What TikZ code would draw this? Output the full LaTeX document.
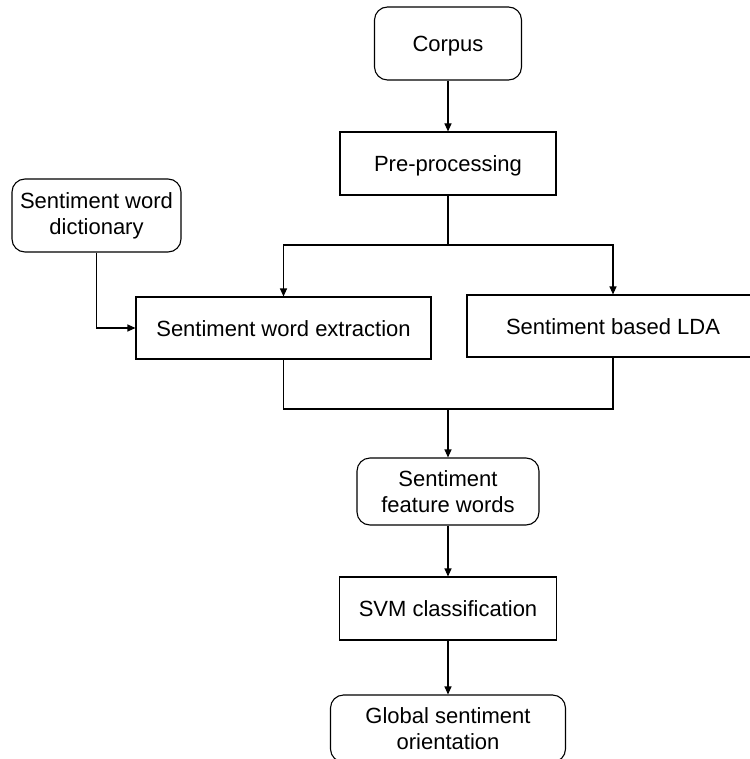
\documentclass[tikz,border=0pt]{standalone}
\usepackage{fontspec}
\setmainfont{Liberation Sans}
\usetikzlibrary{arrows.meta}

\begin{document}
\begin{tikzpicture}[x=1pt, y=-1pt,
  block/.style = {rectangle, draw, line width=1.1pt, align=center},
  roundblock/.style = {block, rounded corners=13pt},
  oneline/.style = {text height=16pt, text depth=0pt},
  >={Triangle[length=8pt, width=7pt]}, line width=1.1pt,
  font=\fontsize{22pt}{26pt}\selectfont]
  \useasboundingbox (0, 0) rectangle (749, 759);

  % Stages.
  \node at (448, 43.5) [roundblock, oneline, minimum width=147pt, minimum height=73pt, name=Corpus] {Corpus};
  \node at (448, 163.5) [block, oneline, minimum width=216pt, minimum height=63pt, name=Preprocessing] {Pre-processing};
  \node at (96.5, 215.5) [roundblock, minimum width=169pt, minimum height=73pt, name=Dictionary] {Sentiment word\\dictionary};
  \node at (283.5, 328) [block, oneline, minimum width=295pt, minimum height=62pt, name=Extraction] {Sentiment word extraction};
  \node at (613, 326) [block, oneline, minimum width=292pt, minimum height=62pt, name=LDA] {Sentiment based LDA};
  \node at (448, 491.5) [roundblock, minimum width=182pt, minimum height=67pt, name=Featurewords] {Sentiment\\feature words};
  \node at (448, 608.5) [block, oneline, minimum width=217pt, minimum height=63pt, name=SVM] {SVM classification};
  \node at (448, 728.5) [roundblock, minimum width=235pt, minimum height=67pt, name=Global] {Global sentiment\\orientation};

  \coordinate (Split) at (448, 245);
  \coordinate (Merge) at (448, 409);

  % Flow.
  \draw [->] (Corpus.south) -- (Preprocessing.north);
  \draw (Preprocessing.south) -- (Split);
  \draw [->] (Split) -| (Extraction.north);
  \draw [->] (Split) -| (LDA.north);
  \draw [->] (Dictionary.south) |- (Extraction.west);

  % Merge
  \draw (Extraction.south) |- (Merge) -| (LDA.south);
  \draw [->] (Merge) -- (Featurewords.north);
  \draw [->] (Featurewords.south) -- (SVM.north);
  \draw [->] (SVM.south) -- (Global.north);
\end{tikzpicture}
\end{document}
